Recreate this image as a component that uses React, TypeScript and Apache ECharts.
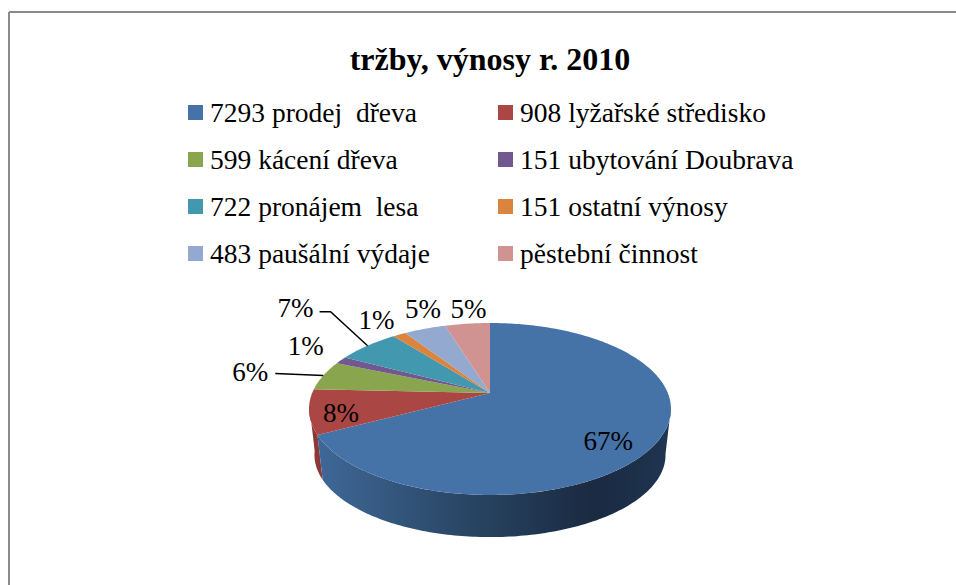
import React, { useEffect, useRef } from "react";
import * as echarts from "echarts";

const titleText = "tržby, výnosy r. 2010";
const categories = [
  "7293 prodej  dřeva",
  "908 lyžařské středisko",
  "599 kácení dřeva",
  "151 ubytování Doubrava",
  "722 pronájem  lesa",
  "151 ostatní výnosy",
  "483 paušální výdaje",
  "pěstební činnost",
];
const values = [7293, 908, 599, 151, 722, 151, 483, 520];
const percentLabels = ["67%", "8%", "6%", "1%", "7%", "1%", "5%", "5%"];
const colors = ["#4572A7", "#AA4643", "#89A54E", "#71588F", "#4198AF", "#DB843D", "#93A9CF", "#D19392"];
const wallColors = ["#35557c", "#8a3936", "#66793a", "#54416a", "#307082", "#a2622d", "#6d7d99", "#9b6d6c"];

// Layout of the tilted disc (perspective projection of a unit circle)
const APEX_X = 490;
const APEX_Y = 393;
const SX = 177.8;
const SY = 83;
const K = -0.186;
const RIM_CY = 409;
const BASE_CY = 455;
const BASE_SCALE_X = 0.97;
const BASE_SCALE_Y = 0.955;
const WALL_FROM = 100;
const WALL_TO = 262;
// Label offsets from the rim mid-point of each slice
const labelOffsets = [[-50, 0], [32, 1], [-73, -4], [-35, -14], [-72, -38], [-23, -15], [-2, -20], [1, -15]];
// Leader lines: start offset from the rim mid-point (null: none)
const leaders: (number[][] | null)[] = [null, null, [[-48, -2]], null, [[-37, -34], [-48, -34]], null, null, null];

const total = values.reduce((a, b) => a + b, 0);
const startAngles: number[] = [];
values.reduce((acc, v) => {
  startAngles.push(acc);
  return acc + (v / total) * 360;
}, 0);

function project(deg: number): [number, number] {
  const t = (deg * Math.PI) / 180;
  const x = Math.sin(t);
  const y = -Math.cos(t);
  const d = 1 + K * y;
  return [APEX_X + (SX * x) / d, APEX_Y + (SY * y) / d];
}

function rimPoints(a: number, b: number): [number, number][] {
  const n = Math.max(2, Math.ceil(Math.abs(b - a)));
  const out: [number, number][] = [];
  for (let i = 0; i <= n; i++) out.push(project(a + ((b - a) * i) / n));
  return out;
}

function wallFill(i: number) {
  if (i === 0) {
    return {
      type: "linear",
      x: 0,
      y: 0,
      x2: 1,
      y2: 0,
      colorStops: [
        { offset: 0, color: "#3f6898" },
        { offset: 0.4, color: "#2a4766" },
        { offset: 0.78, color: "#1a2a41" },
        { offset: 1, color: "#1f3551" },
      ],
    };
  }
  return wallColors[i];
}

function makeRenderItem(i: number) {
  return (_params: any, api: any) => {
    const value = api.value(0);
    const a = startAngles[i];
    const b = a + (value / total) * 360;
    const mid = (a + b) / 2;
    const children: any[] = [];

    // Side wall: only the front part of the rim is visible
    const wa = Math.max(a, WALL_FROM);
    const wb = Math.min(b, WALL_TO);
    if (wb > wa) {
      const top = rimPoints(wa, wb);
      const bottom = top
        .map(([x, y]) => [APEX_X + (x - APEX_X) * BASE_SCALE_X, BASE_CY + (y - RIM_CY) * BASE_SCALE_Y])
        .reverse();
      children.push({
        type: "polygon",
        z2: 10 - i,
        shape: { points: [...top, ...bottom] },
        style: { fill: wallFill(i) },
      });
    }

    // Top face
    children.push({
      type: "polygon",
      z2: 20,
      shape: { points: [[APEX_X, APEX_Y], ...rimPoints(a, b)] },
      style: { fill: colors[i] },
    });

    // Percent label
    const [mx, my] = project(mid);
    const [dx, dy] = labelOffsets[i];
    children.push({
      type: "text",
      z2: 40,
      x: mx + dx,
      y: my + dy,
      style: {
        text: percentLabels[i],
        fill: "#000",
        font: '27px "Liberation Serif"',
        align: "center",
        verticalAlign: "middle",
      },
    });

    // Leader line
    const leader = leaders[i];
    if (leader) {
      children.push({
        type: "polyline",
        z2: 30,
        shape: { points: [...leader.map(([lx, ly]) => [mx + lx, my + ly]).reverse(), [mx, my]] },
        style: { stroke: "#000", lineWidth: 1.5, fill: "none" },
      });
    }
    return { type: "group", children };
  };
}

const legendBase = {
  orient: "vertical",
  icon: "rect",
  itemWidth: 15,
  itemHeight: 15,
  itemGap: 18,
  top: 98,
  selectedMode: false,
  padding: 0,
  textStyle: { color: "#000", fontFamily: "Liberation Serif", fontSize: 27.5, padding: [4, 0, 0, 2], height: 25, lineHeight: 25 },
};

export default function App() {
  const ref = useRef<HTMLDivElement>(null);
  useEffect(() => {
    const chart = echarts.init(ref.current!, null, { renderer: "svg" });
    chart.setOption({
      animation: false,
      backgroundColor: "#fff",
      title: {
        text: titleText,
        left: 485,
        top: 38,
        textAlign: "center",
        textStyle: { color: "#000", fontFamily: "Liberation Serif", fontWeight: "bold", fontSize: 32 },
      },
      legend: [
        { ...legendBase, left: 188, data: categories.filter((_, i) => i % 2 === 0) },
        { ...legendBase, left: 498, data: categories.filter((_, i) => i % 2 === 1) },
      ],
      graphic: [
        { type: "line", shape: { x1: 9, y1: 12, x2: 956, y2: 12 }, style: { stroke: "#8a8a8a", lineWidth: 2 } },
        { type: "line", shape: { x1: 9, y1: 12, x2: 9, y2: 585 }, style: { stroke: "#8a8a8a", lineWidth: 2 } },
      ],
      series: categories.map((name, i) => ({
        type: "custom",
        name,
        coordinateSystem: "none",
        itemStyle: { color: colors[i] },
        data: [[values[i]]],
        renderItem: makeRenderItem(i),
      })),
    });
    return () => chart.dispose();
  }, []);
  return <div ref={ref} style={{ position: "absolute", left: 0, top: 0, width: 956, height: 585 }} />;
}
